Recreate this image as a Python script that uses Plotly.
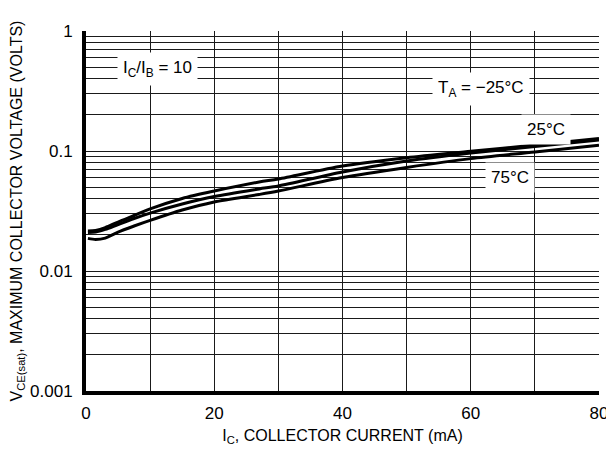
import math
import plotly.graph_objects as go

# Collector current (mA)
ic_top = [0.3, 1.5, 3, 5, 7.5, 10, 15, 20, 27, 30, 40, 50, 60, 70, 80]
vce_top = [0.0215, 0.0218, 0.0230, 0.0256, 0.0290, 0.0329, 0.0402, 0.0464, 0.0552, 0.0584, 0.0750, 0.0879, 0.0994, 0.1122, 0.1271]

ic_mid = [0.3, 1.5, 3, 5, 7.5, 10, 15, 20, 27, 30, 40, 50, 60, 70, 80]
vce_mid = [0.0209, 0.0211, 0.0222, 0.0244, 0.0274, 0.0304, 0.0362, 0.0418, 0.0483, 0.0511, 0.0668, 0.0825, 0.0962, 0.1090, 0.1235]

ic_bot = [0.3, 1.5, 3, 5, 7.5, 10, 15, 20, 27, 30, 40, 50, 60, 70, 80]
vce_bot = [0.0187, 0.0183, 0.0188, 0.0211, 0.0237, 0.0264, 0.0322, 0.0376, 0.0434, 0.0464, 0.0601, 0.0729, 0.0864, 0.0981, 0.1117]

x_tickvals = [0, 10, 20, 30, 40, 50, 60, 70, 80]
x_ticktext = ["0", "", "20", "", "40", "", "60", "", "80"]

y_decades = [0.001, 0.01, 0.1, 1]
y_decade_labels = ["0.001", "0.01", "0.1", "1"]
y_minor_steps = [2, 3, 4, 5, 6, 7, 8, 9]

y_tickvals = []
y_ticktext = []
for d, lab in zip(y_decades, y_decade_labels):
    y_tickvals.append(d)
    y_ticktext.append(lab)
    if d < 1:
        for m in y_minor_steps:
            y_tickvals.append(d * m)
            y_ticktext.append("")

FONT = "Liberation Sans Narrow, Arial Narrow, Liberation Sans, Arial, sans-serif"

fig = go.Figure()
for xs, ys in [(ic_top, vce_top), (ic_mid, vce_mid), (ic_bot, vce_bot)]:
    fig.add_trace(go.Scatter(x=xs, y=ys, mode="lines",
                             line=dict(color="black", width=3, shape="spline", smoothing=0.8),
                             showlegend=False, hoverinfo="skip"))

annots = [
    (11.1, 0.48, "I<sub>C</sub>/I<sub>B</sub> = 10"),
    (61.6, 0.33, "T<sub>A</sub> = −25°C"),
    (71.7, 0.150, "25°C"),
    (66.1, 0.0596, "75°C"),
]
for x, y, t in annots:
    fig.add_annotation(x=x, y=math.log10(y), yref="y", xref="x", text=t, showarrow=False,
                       font=dict(family=FONT, size=17, color="black"),
                       bgcolor="white", borderpad=5)

fig.update_layout(
    width=606, height=442,
    margin=dict(l=78, r=15, t=23, b=59),
    paper_bgcolor="white", plot_bgcolor="white",
    font=dict(family=FONT, size=17, color="black"),
)
fig.update_xaxes(
    range=[0, 80], tickvals=x_tickvals, ticktext=x_ticktext,
    showgrid=True, gridcolor="#1a1a1a", gridwidth=1,
    showline=True, linecolor="black", linewidth=4,
    zeroline=False, ticks="", ticklabelstandoff=4, automargin=False,
    title=dict(text="I<sub>C</sub>, COLLECTOR CURRENT (mA)", standoff=8,
               font=dict(family=FONT, size=16)),
)
fig.update_yaxes(
    type="log", range=[-3, 0], tickvals=y_tickvals, ticktext=y_ticktext,
    showgrid=True, gridcolor="#1a1a1a", gridwidth=1,
    showline=True, linecolor="black", linewidth=4,
    zeroline=False, ticks="", ticklabelstandoff=6, automargin=False,
    title=dict(text="V<sub>CE(sat)</sub>, MAXIMUM COLLECTOR VOLTAGE (VOLTS)", standoff=6,
               font=dict(family=FONT, size=16)),
)

fig.write_html("out.html")
